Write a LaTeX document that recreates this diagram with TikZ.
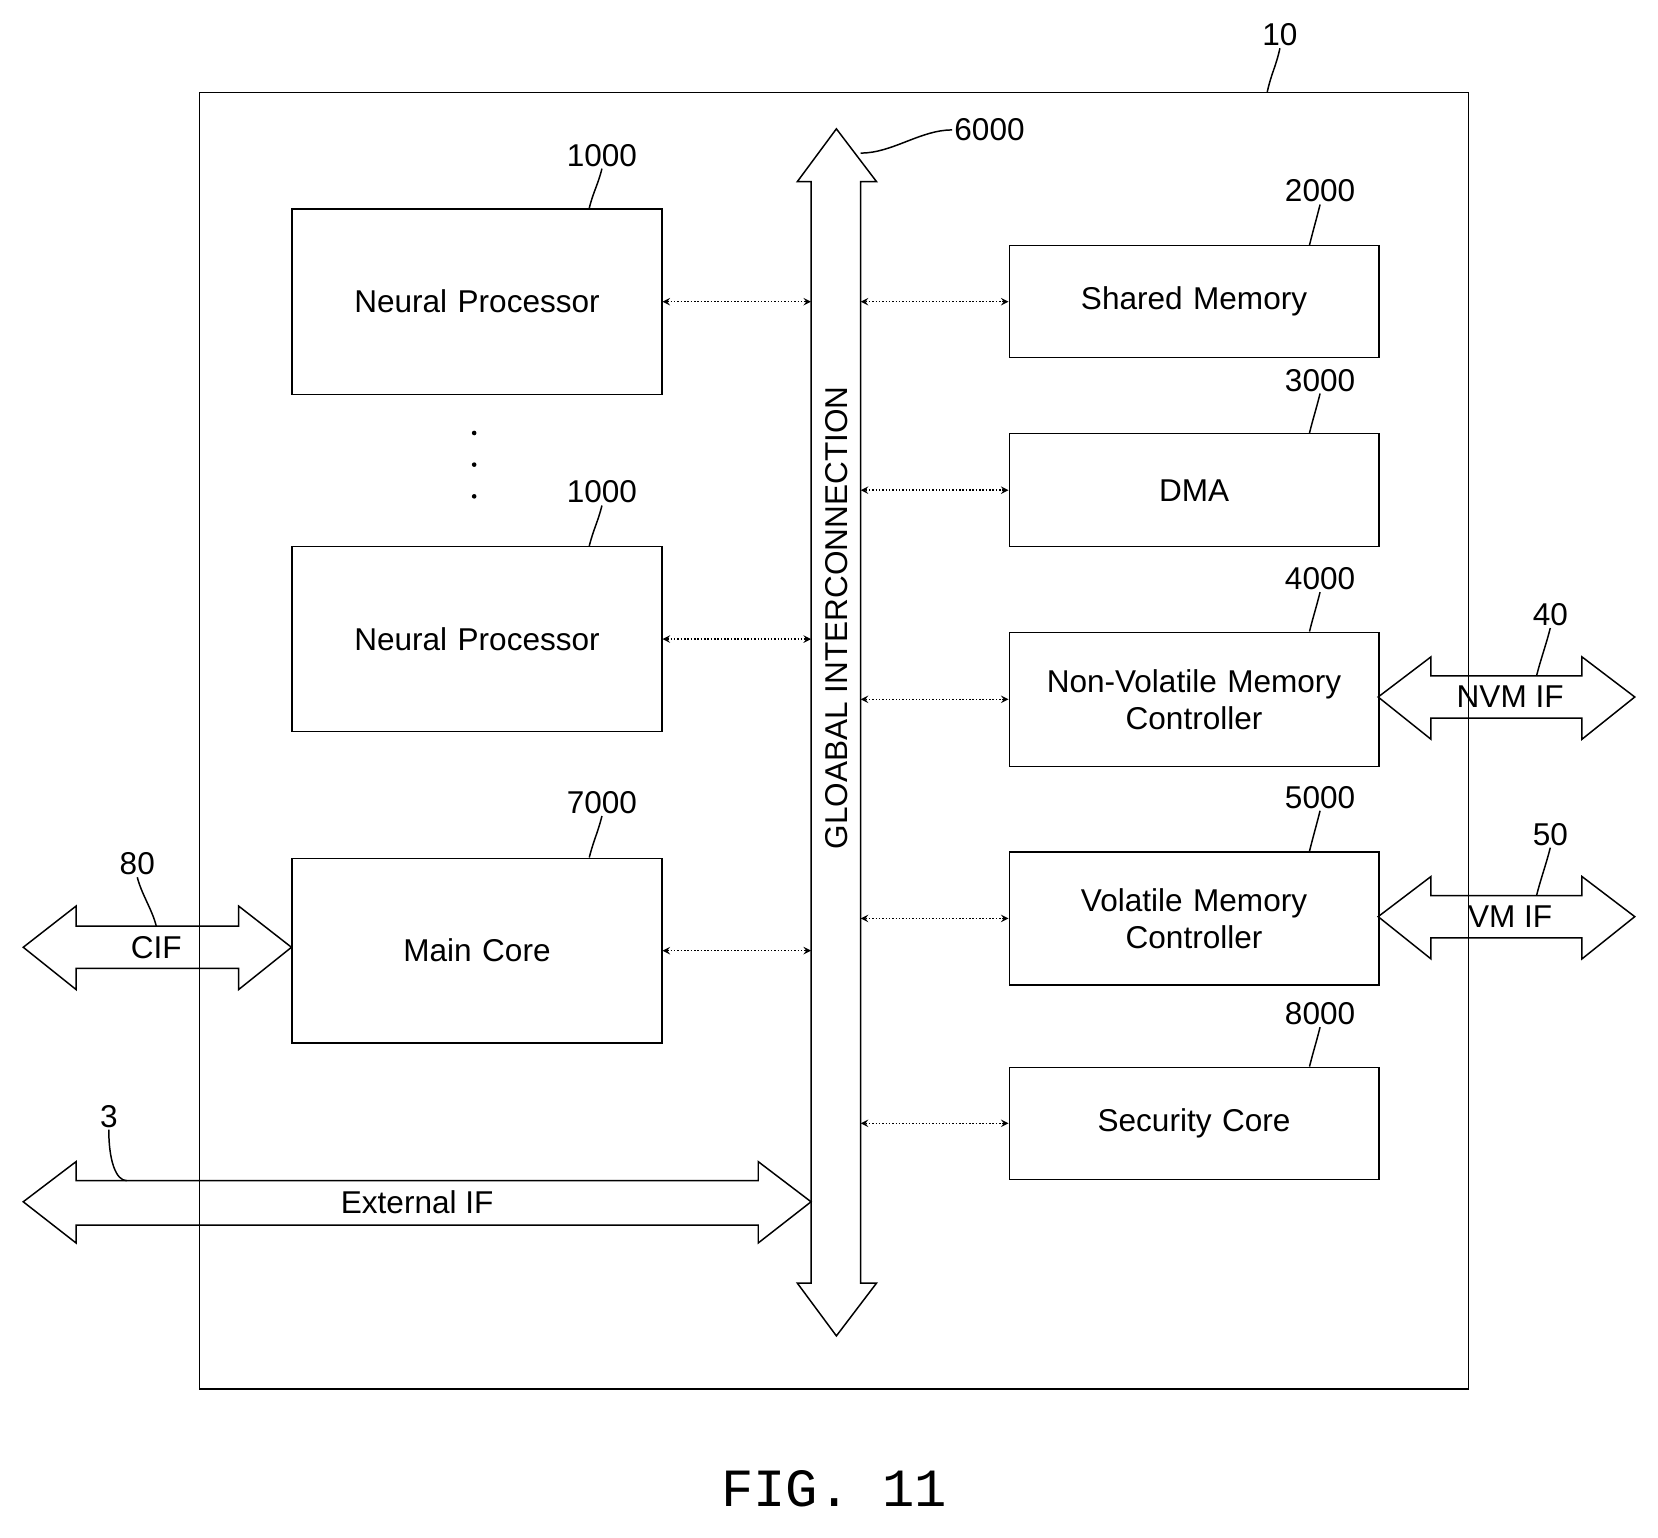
\documentclass[tikz,border=0pt]{standalone}
\usepackage{fontspec}
\setmainfont{Liberation Sans}
\setmonofont{Liberation Mono}
\usetikzlibrary{positioning,arrows}

\begin{document}
\begin{tikzpicture}[x=0.02cm,y=-0.02cm,font=\fontsize{17}{20}\selectfont]
            \tikzstyle{block} = [rectangle, draw, thick, anchor=north west, minimum width=7cm, text width=6.6cm, align=center]
            \tikzstyle{conn} = [densely dotted, thick, <->, >=stealth, shorten <=0pt]
            \tikzstyle{fat} = [draw, thick]
            \tikzstyle{ref} = [inner sep=1pt]
            \tikzstyle{lead} = [thick]

            \useasboundingbox (0,0) rectangle (1570,1456);

            % chip outline
            \node [rectangle, draw, thick, anchor=north west, minimum width=24.04cm, minimum height=24.56cm] (chip) at (188,87) {};
            \node [ref] (l10) at (1212,33) {10};
            \draw [lead] (l10.south) .. controls +(-4,18) and +(4,-18) .. (1200,87);

            % global interconnection bus
            \draw [fat] (792,122) -- (830,172) -- (815,172) -- (815,1215) -- (830,1215) -- (792,1265)
                -- (755,1215) -- (768,1215) -- (768,172) -- (755,172) -- cycle;
            \coordinate (busL) at (768,600);
            \coordinate (busR) at (815,600);
            \node [rotate=90] (bus) at (792,585) {GLOABAL INTERCONNECTION};
            \node [ref] (l6000) at (937,123) {6000};
            \draw [lead] (l6000.west) .. controls +(-30,0) and +(30,0) .. (815,145);

            % left column
            \node [block, minimum height=3.52cm] (np1) at (276,197) {Neural Processor};
            \node [block, minimum height=3.5cm] (np2) at (276,517) {Neural Processor};
            \node [block, minimum height=3.5cm] (core) at (276,812) {Main Core};
            \node [ref] (l1000a) at (570,147) {1000};
            \node [ref] (l1000b) at (570,466) {1000};
            \node [ref] (l7000) at (570,760) {7000};
            \draw [lead] (l1000a.south) .. controls +(-4,16) and +(4,-16) .. (558,197);
            \draw [lead] (l1000b.south) .. controls +(-4,16) and +(4,-16) .. (558,517);
            \draw [lead] (l7000.south) .. controls +(-4,16) and +(4,-16) .. (558,812);
            \foreach \y in {410,440,470} \fill (449,\y) circle (2.2);

            % right column
            \node [block, minimum height=2.12cm] (shm) at (955,232) {Shared Memory};
            \node [block, minimum height=2.14cm] (dma) at (955,410) {DMA};
            \node [block, minimum height=2.54cm] (nvmc) at (955,598) {Non-Volatile Memory\\Controller};
            \node [block, minimum height=2.52cm] (vmc) at (955,806) {Volatile Memory\\Controller};
            \node [block, minimum height=2.12cm] (sec) at (955,1010) {Security Core};
            \foreach \n/\t/\y in {l2000/2000/181, l3000/3000/360, l4000/4000/548, l5000/5000/755, l8000/8000/960} {
                \node [ref] (\n) at (1250,\y) {\t};
            }
            \draw [lead] (l2000.south) .. controls +(-4,16) and +(4,-16) .. (1240,232);
            \draw [lead] (l3000.south) .. controls +(-4,16) and +(4,-16) .. (1240,410);
            \draw [lead] (l4000.south) .. controls +(-4,16) and +(4,-16) .. (1240,598);
            \draw [lead] (l5000.south) .. controls +(-4,16) and +(4,-16) .. (1240,806);
            \draw [lead] (l8000.south) .. controls +(-4,16) and +(4,-16) .. (1240,1010);

            % links to the bus
            \foreach \b in {np1,np2,core} \draw [conn, arrows={stealth-stealth}] (\b.east) -- (\b.east -| busL);
            \foreach \b in {shm,dma,nvmc,vmc,sec} \draw [conn, arrows={stealth-stealth}] (\b.west -| busR) -- (\b.west);

            % external interfaces
            \draw [fat] (1305,660) -- (1355,622) -- (1355,640) -- (1498,640) -- (1498,622) -- (1548,660)
                -- (1498,700) -- (1498,680) -- (1355,680) -- (1355,700) -- cycle;
            \node (nvmif) at (1430,660) {NVM IF};
            \draw [fat] (1305,868) -- (1355,830) -- (1355,848) -- (1498,848) -- (1498,830) -- (1548,868)
                -- (1498,908) -- (1498,888) -- (1355,888) -- (1355,908) -- cycle;
            \node (vmif) at (1430,868) {VM IF};
            \node [ref] (l40) at (1468,582) {40};
            \node [ref] (l50) at (1468,790) {50};
            \draw [lead] (l40.south) .. controls +(-4,16) and +(4,-16) .. (1455,640);
            \draw [lead] (l50.south) .. controls +(-4,16) and +(4,-16) .. (1455,848);

            \draw [fat] (22,897) -- (72,858) -- (72,877) -- (226,877) -- (226,858) -- (276,897)
                -- (226,937) -- (226,917) -- (72,917) -- (72,937) -- cycle;
            \node (cif) at (148,897) {CIF};
            \node [ref] (l80) at (130,818) {80};
            \draw [lead] (l80.south) .. controls +(4,16) and +(-4,-16) .. (148,877);

            \draw [fat] (22,1138) -- (72,1100) -- (72,1118) -- (718,1118) -- (718,1100) -- (768,1138)
                -- (718,1177) -- (718,1160) -- (72,1160) -- (72,1177) -- cycle;
            \node (extif) at (395,1138) {External IF};
            \node [ref] (l3) at (103,1057) {3};
            \draw [lead] (l3.south) .. controls +(0,30) and +(-10,0) .. (120,1118);

            \node [font=\ttfamily\fontsize{29}{34}\selectfont] (fig) at (790,1410) {FIG. 11};
        \end{tikzpicture}
\end{document}
